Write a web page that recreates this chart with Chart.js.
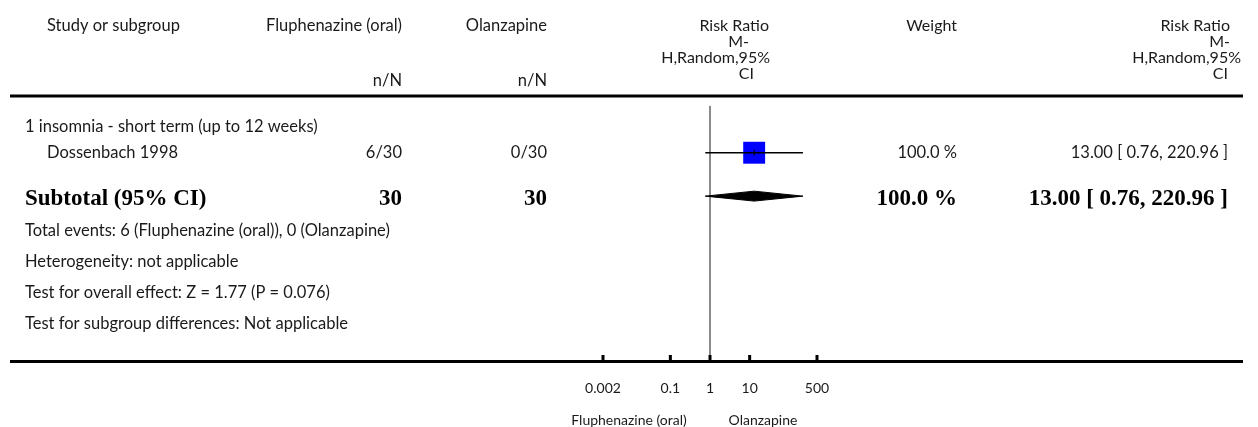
<!DOCTYPE html>
<html>
<head>
<meta charset="utf-8">
<script src="https://cdn.jsdelivr.net/npm/chart.js@4/dist/chart.umd.min.js"></script>
<style>
  html, body { margin: 0; padding: 0; background: #fff; }
  #wrap { width: 1258px; height: 427px; position: relative; }
</style>
</head>
<body>
<div id="wrap"><canvas id="forest"></canvas></div>
<script>
// --- data ---
const subgroupTitle = "1 insomnia - short term (up to 12 weeks)";
const studyNames = ["Dossenbach 1998"];
const fluEvents = [6];
const fluTotals = [30];
const olaEvents = [0];
const olaTotals = [30];
const studyRR = [13.00];
const studyLow = [0.76];
const studyHigh = [220.96];
const studyWeight = [100.0];

const subtotalRR = 13.00;
const subtotalLow = 0.76;
const subtotalHigh = 220.96;
const subtotalWeight = 100.0;

const footnotes = [
  "Total events: 6 (Fluphenazine (oral)), 0 (Olanzapine)",
  "Heterogeneity: not applicable",
  "Test for overall effect: Z = 1.77 (P = 0.076)",
  "Test for subgroup differences: Not applicable"
];

const axisTicks = [0.002, 0.1, 1, 10, 500];
const axisTickLabels = ["0.002", "0.1", "1", "10", "500"];
const favoursLeft = "Fluphenazine (oral)";
const favoursRight = "Olanzapine";

// row positions on the y scale (1 unit ~ 31px)
const ROW_NULL_TOP = 0.32;
const ROW_SUBGROUP = 1.0;
const ROW_STUDY = 1.83;
const ROW_DIAMOND = 3.23;
const ROW_SUBTOTAL = 3.33;
const ROW_FOOT = [4.35, 5.35, 6.35, 7.35];
const Y_MAX = (361 - 96) / 31;
const DIAMOND_H = 0.16;

const fmt2 = v => v.toFixed(2);
const ciText = (m, l, h) => fmt2(m) + " [ " + fmt2(l) + ", " + fmt2(h) + " ]";

const SANS = "Lato, 'Open Sans', sans-serif";
const SERIF = "'Liberation Serif', 'DejaVu Serif', serif";
const BODY = "16.5px " + SANS;
const HEAD = "16px " + SANS;
const SMALL = "14px " + SANS;
const BOLD = "bold 23px " + SERIF;

// text + axis drawing around the plot
const tablePlugin = {
  id: "forestTable",
  afterDraw(chart) {
    const ctx = chart.ctx;
    const xs = chart.scales.x;
    const ys = chart.scales.y;
    ctx.save();
    ctx.fillStyle = "#1a1a1a";
    ctx.textBaseline = "middle";

    const txt = (s, x, y, align, font) => {
      ctx.font = font || BODY;
      ctx.textAlign = align || "left";
      ctx.fillText(s, x, y);
    };

    // header
    txt("Study or subgroup", 47, 26);
    txt("Fluphenazine (oral)", 402, 26, "right");
    txt("Olanzapine", 547, 26, "right");
    txt("n/N", 402, 81, "right");
    txt("n/N", 547, 81, "right");
    txt("Risk Ratio", 769, 26, "right", HEAD);
    txt("M-", 749, 42, "right", HEAD);
    txt("H,Random,95%", 770, 58, "right", HEAD);
    txt("CI", 754, 74, "right", HEAD);
    txt("Weight", 957, 26, "right", HEAD);
    txt("Risk Ratio", 1230, 26, "right", HEAD);
    txt("M-", 1230, 42, "right", HEAD);
    txt("H,Random,95%", 1241, 58, "right", HEAD);
    txt("CI", 1228, 74, "right", HEAD);

    // header rule
    ctx.fillStyle = "#000";
    ctx.fillRect(10, 94.5, 1233, 3);
    ctx.fillStyle = "#1a1a1a";

    // subgroup + studies
    txt(subgroupTitle, 25, ys.getPixelForValue(ROW_SUBGROUP));
    studyNames.forEach((name, i) => {
      const y = ys.getPixelForValue(ROW_STUDY);
      txt(name, 47, y);
      txt(fluEvents[i] + "/" + fluTotals[i], 402, y, "right");
      txt(olaEvents[i] + "/" + olaTotals[i], 547, y, "right");
      txt(studyWeight[i].toFixed(1) + " %", 957, y, "right");
      txt(ciText(studyRR[i], studyLow[i], studyHigh[i]), 1228, y, "right");
    });

    // subtotal
    const ySub = ys.getPixelForValue(ROW_SUBTOTAL);
    const fluN = fluTotals.reduce((a, b) => a + b, 0);
    const olaN = olaTotals.reduce((a, b) => a + b, 0);
    ctx.fillStyle = "#000";
    txt("Subtotal (95% CI)", 25, ySub, "left", BOLD);
    txt(String(fluN), 402, ySub, "right", BOLD);
    txt(String(olaN), 547, ySub, "right", BOLD);
    txt(subtotalWeight.toFixed(1) + " %", 957, ySub, "right", BOLD);
    txt(ciText(subtotalRR, subtotalLow, subtotalHigh), 1228, ySub, "right", BOLD);
    ctx.fillStyle = "#1a1a1a";

    footnotes.forEach((s, i) => txt(s, 25, ys.getPixelForValue(ROW_FOOT[i])));

    // bottom axis
    const axisY = ys.getPixelForValue(Y_MAX);
    ctx.fillStyle = "#000";
    ctx.fillRect(10, axisY - 1, 1233, 3);
    axisTicks.forEach(v => {
      const px = xs.getPixelForValue(v);
      ctx.fillRect(px - 1.5, axisY - 6, 3, 6);
    });
    ctx.fillStyle = "#1a1a1a";
    axisTicks.forEach((v, i) => {
      txt(axisTickLabels[i], xs.getPixelForValue(v), axisY + 27, "center", SMALL);
    });
    txt(favoursLeft, 629, axisY + 59, "center", SMALL);
    txt(favoursRight, 763, axisY + 59, "center", SMALL);

    ctx.restore();
  }
};

const diamond = [
  { x: subtotalLow, y: ROW_DIAMOND },
  { x: subtotalRR, y: ROW_DIAMOND - DIAMOND_H },
  { x: subtotalHigh, y: ROW_DIAMOND },
  { x: subtotalRR, y: ROW_DIAMOND + DIAMOND_H },
  { x: subtotalLow, y: ROW_DIAMOND }
];

new Chart(document.getElementById("forest"), {
  type: "line",
  data: {
    datasets: [
      // line of no effect
      {
        data: [{ x: 1, y: ROW_NULL_TOP }, { x: 1, y: Y_MAX }],
        borderColor: "#7a7a7a",
        borderWidth: 1,
        pointRadius: 0,
        order: 5
      },
      // study square
      {
        data: studyRR.map(v => ({ x: v, y: ROW_STUDY })),
        showLine: false,
        pointStyle: "rect",
        pointRadius: 15.5,
        backgroundColor: "#0000ff",
        borderWidth: 0,
        order: 4
      },
      // study CI
      {
        data: studyLow.flatMap((l, i) => [{ x: l, y: ROW_STUDY }, { x: studyHigh[i], y: ROW_STUDY }]),
        borderColor: "#000",
        borderWidth: 1.5,
        pointRadius: 0,
        order: 2
      },
      // point-estimate tick
      {
        data: studyRR.map(v => ({ x: v, y: ROW_STUDY })),
        showLine: false,
        pointStyle: "line",
        rotation: 90,
        pointRadius: 3,
        borderColor: "#000",
        borderWidth: 1,
        order: 1
      },
      // subtotal diamond
      {
        data: diamond,
        borderColor: "#000",
        backgroundColor: "#000",
        borderWidth: 1,
        fill: "shape",
        pointRadius: 0,
        tension: 0,
        order: 3
      }
    ]
  },
  options: {
    responsive: true,
    maintainAspectRatio: false,
    animation: false,
    events: [],
    layout: { padding: { left: 603, right: 441, top: 96, bottom: 66 } },
    plugins: {
      legend: { display: false },
      tooltip: { enabled: false }
    },
    scales: {
      x: { type: "logarithmic", min: 0.002, max: 500, display: false },
      y: { type: "linear", min: 0, max: Y_MAX, reverse: true, display: false }
    }
  },
  plugins: [tablePlugin]
});
</script>
</body>
</html>
